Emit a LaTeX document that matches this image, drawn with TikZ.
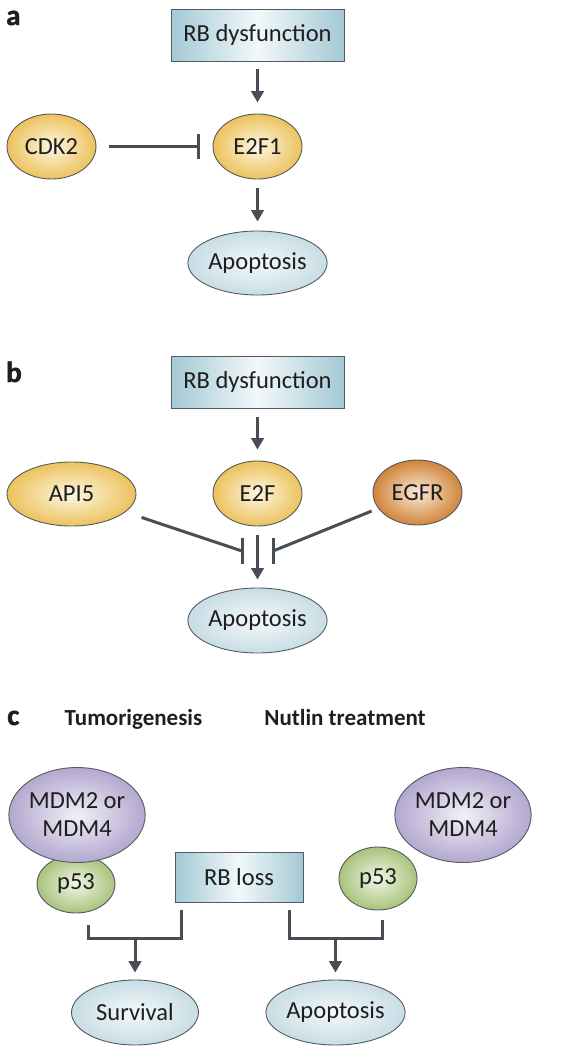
\documentclass[tikz,border=0pt]{standalone}
\usepackage{fontspec}
\setmainfont{Carlito}
\newfontfamily\heavyfont[BoldFeatures={FakeBold=1.6}]{Carlito}
\usetikzlibrary{shapes.geometric,arrows.meta,calc}
\definecolor{ln}{HTML}{474E56}
\definecolor{bord}{HTML}{555A60}
\definecolor{txt}{HTML}{1E1E1E}
\definecolor{boxout}{HTML}{A3C9D5}
\definecolor{boxin}{HTML}{F2F8FA}
\definecolor{yelout}{HTML}{ECC25C}
\definecolor{yelin}{HTML}{FDF6E4}
\definecolor{apoout}{HTML}{C8DDE5}
\definecolor{apoin}{HTML}{F4F9FA}
\definecolor{egfout}{HTML}{D0843A}
\definecolor{egfin}{HTML}{FBEAD8}
\definecolor{purout}{HTML}{B3A8CF}
\definecolor{purin}{HTML}{F2F0F7}
\definecolor{grnout}{HTML}{A8C37C}
\definecolor{grnin}{HTML}{F0F6E4}
\begin{document}
\begin{tikzpicture}[x=1pt,y=-1pt,
  every node/.style={font=\fontsize{24.5}{28}\selectfont, text=txt},
  rbbox/.style={draw=bord, line width=0.9pt, left color=boxout, right color=boxout, middle color=boxin,
    minimum width=173pt, minimum height=52pt, inner sep=0pt},
  ell/.style={ellipse, draw=bord, line width=0.9pt, inner sep=0pt, shading=radial},
  yel/.style={ell, inner color=yelin, outer color=yelout},
  apo/.style={ell, inner color=apoin, outer color=apoout, minimum width=127pt, minimum height=65pt},
  egf/.style={ell, inner color=egfin, outer color=egfout},
  pur/.style={ell, inner color=purin, outer color=purout, minimum width=108pt, minimum height=95pt, align=center},
  grn/.style={ell, inner color=grnin, outer color=grnout},
  arr/.style={draw=ln, line width=3pt, -{Triangle[width=12.5pt,length=11.5pt]}},
  inh/.style={draw=ln, line width=3pt, -{Bar[width=25pt]}},
  ln3/.style={draw=ln, line width=3pt},
  panel/.style={font=\heavyfont\fontsize{29}{30}\selectfont\bfseries, inner sep=0pt, anchor=base west},
  hdr/.style={font=\fontsize{23}{26}\selectfont\bfseries, inner sep=0pt, anchor=base},
]
\useasboundingbox (0,0) rectangle (578,1050);

% ---------- panel a ----------
\node[panel] (la) at (6,25) {a};
\node[rbbox] (rbA) at (257.5,35) {RB dysfunction};
\node[yel, minimum width=89pt, minimum height=65pt] (cdk2) at (51.5,146.5) {CDK2};
\node[yel, minimum width=89pt, minimum height=65pt] (e2f1) at (257.5,146.5) {E2F1};
\node[apo, minimum height=64pt] (apoA) at (257.5,263) {Apoptosis};
\draw[arr, shorten <=8pt, shorten >=11pt] (rbA) -- (e2f1);
\draw[inh, shorten <=13pt, shorten >=13pt] (cdk2) -- (e2f1);
\draw[arr, shorten <=9pt, shorten >=9pt] (e2f1) -- (apoA);

% ---------- panel b ----------
\node[panel] (lb) at (6,382) {b};
\node[rbbox] (rbB) at (257.5,382) {RB dysfunction};
\node[yel, minimum width=129pt, minimum height=64pt] (api5) at (71.5,494) {API5};
\node[yel, minimum width=89pt, minimum height=65pt] (e2f) at (257.5,493.5) {E2F};
\node[egf, minimum width=89pt, minimum height=65pt] (egfr) at (417.5,492.5) {EGFR};
\node[apo] (apoB) at (257.5,620.5) {Apoptosis};
\draw[arr, shorten <=9pt, shorten >=11pt] (rbB) -- (e2f);
\draw[arr, shorten <=9pt, shorten >=8pt] (e2f) -- (apoB);
\coordinate (ibL) at (242,551);
\coordinate (ibR) at (273,551);
\draw[ln3, shorten <=17pt] (api5) -- (ibL);
\draw[ln3, shorten <=7pt] (egfr) -- (ibR);
\draw[ln3] ($(ibL)+(0,-13)$) -- ($(ibL)+(0,13)$);
\draw[ln3] ($(ibR)+(0,-13)$) -- ($(ibR)+(0,13)$);

% ---------- panel c ----------
\node[panel] (lc) at (7,725) {c};
\node[hdr] (tum) at (133.5,725) {Tumorigenesis};
\node[hdr] (nut) at (345,725) {Nutlin treatment};
\node[grn, minimum width=78pt, minimum height=58pt] (p53L) at (76,884) {p53};
\node[pur] (mdmL) at (77,815) {MDM2 or\\MDM4};
\node[rbbox, minimum width=128pt, minimum height=50pt] (rbl) at (239,877) {RB loss};
\node[grn, minimum width=78pt, minimum height=63pt] (p53R) at (378,878.5) {p53};
\node[pur] (mdmR) at (463,815) {MDM2 or\\MDM4};
\node[apo] (surv) at (135,1012.5) {Survival};
\node[apo] (apoC) at (335.5,1012.5) {Apoptosis};

\coordinate (bL1) at (88,925);
\coordinate (bL2) at (181,910);
\coordinate (jL) at (135,938);
\draw[ln3] (bL1) -- (bL1 |- jL) -- (bL2 |- jL) -- (bL2);
\draw[arr, shorten >=7pt] (jL) -- (surv);

\coordinate (bR1) at (289,910);
\coordinate (bR2) at (382,920);
\coordinate (jR) at (335.5,938);
\draw[ln3] (bR1) -- (bR1 |- jR) -- (bR2 |- jR) -- (bR2);
\draw[arr, shorten >=7pt] (jR) -- (apoC);
\end{tikzpicture}
\end{document}
